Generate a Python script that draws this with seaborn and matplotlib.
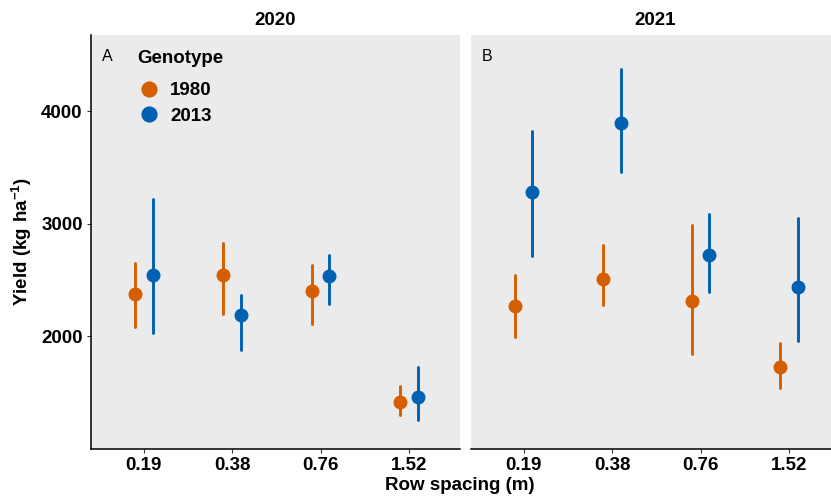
import matplotlib
matplotlib.use("Agg")
import matplotlib.pyplot as plt
import numpy as np
import pandas as pd
import seaborn as sns

sns.set_theme(style="white")
plt.rcParams["font.family"] = ["Liberation Sans", "DejaVu Sans"]
plt.rcParams["text.color"] = "black"
plt.rcParams["axes.labelcolor"] = "black"
plt.rcParams["mathtext.fontset"] = "custom"
plt.rcParams["mathtext.bf"] = "Liberation Sans:bold"
plt.rcParams["mathtext.rm"] = "Liberation Sans"

years = ["2020", "2021"]
panel_tags = ["A", "B"]
spacings = ["0.19", "0.38", "0.76", "1.52"]
genotypes = ["1980", "2013"]
palette = {"1980": "#D55E00", "2013": "#0061B2"}

# mean yield and interval bounds, per year -> genotype, in spacing order
yield_mean = {
    "2020": {"1980": [2374, 2545, 2404, 1416], "2013": [2545, 2188, 2537, 1466]},
    "2021": {"1980": [2273, 2513, 2312, 1727], "2013": [3282, 3891, 2723, 2442]},
}
yield_low = {
    "2020": {"1980": [2087, 2200, 2111, 1301], "2013": [2028, 1880, 2291, 1253]},
    "2021": {"1980": [1993, 2279, 1842, 1541], "2013": [2717, 3456, 2392, 1963]},
}
yield_high = {
    "2020": {"1980": [2649, 2832, 2634, 1555], "2013": [3222, 2371, 2720, 1732]},
    "2021": {"1980": [2545, 2812, 2989, 1940], "2013": [3825, 4370, 3089, 3048]},
}

rows = []
for year in years:
    for g in genotypes:
        for i, sp in enumerate(spacings):
            for v in (yield_low[year][g][i], yield_mean[year][g][i], yield_high[year][g][i]):
                rows.append({"year": year, "spacing": sp, "genotype": g, "yield": v})
df = pd.DataFrame(rows)

W, H = 831, 498
fig = plt.figure(figsize=(W / 100, H / 100), dpi=100)
panel_w, panel_h, top, bottom = 369, 414, 35, 449
lefts = [91, 471]
axes = []
for k, year in enumerate(years):
    ax = fig.add_axes([lefts[k] / W, (H - bottom) / H, panel_w / W, panel_h / H])
    axes.append(ax)
    sub = df[df["year"] == year]
    sns.pointplot(
        data=sub, x="spacing", y="yield", hue="genotype",
        order=spacings, hue_order=genotypes, palette=palette,
        estimator="median", errorbar=lambda v: (v.min(), v.max()),
        dodge=0.2, linestyle="none", markers="o", markersize=8,
        err_kws={"linewidth": 2.1}, ax=ax, legend=(k == 0),
    )
    ax.set_facecolor("#EBEBEB")
    ax.set_xlim(-0.595, 3.575)
    ax.set_ylim(1000, 4675)
    ax.set_yticks([2000, 3000, 4000])
    ax.set_xlabel("")
    ax.set_ylabel("")
    for s in ["top", "right"]:
        ax.spines[s].set_visible(False)
    for s in ["bottom", "left"]:
        ax.spines[s].set_color("black")
        ax.spines[s].set_linewidth(1.1)
    ax.tick_params(axis="both", direction="out", length=3, width=0.8, color="#333333",
                   labelsize=13.5, pad=3, bottom=True, left=(k == 0), labelcolor="black")
    for lab in ax.get_xticklabels() + ax.get_yticklabels():
        lab.set_fontweight("bold")
    ax.text(0.03, 0.949, panel_tags[k], transform=ax.transAxes, fontsize=11.5,
            va="center", ha="left", color="black")
    ax.set_title(year, fontsize=13.5, fontweight="bold", pad=7, color="black")
    if k == 1:
        ax.spines["left"].set_visible(False)
        ax.tick_params(axis="y", labelleft=False, left=False)

leg = axes[0].legend(
    title="Genotype", loc="upper left", bbox_to_anchor=(0.08, 1.005),
    frameon=False, fontsize=13.5, title_fontsize=13.5, handlelength=1.2,
    handletextpad=0.55, labelspacing=0.45, alignment="left", markerscale=1.2,
)
leg.get_title().set_fontweight("bold")
leg._legend_box.sep = 11
for t in leg.get_texts():
    t.set_fontweight("bold")

fig.text(460 / W, 1 - 485 / H, "Row spacing (m)", ha="center", va="center",
         fontsize=13.5, fontweight="bold")
fig.text(22 / W, 1 - 242 / H, r"Yield $\mathbf{(kg\ ha^{-1})}$", ha="center", va="center",
         rotation=90, fontsize=13.5, fontweight="bold")

fig.savefig("out.png", dpi=100)
